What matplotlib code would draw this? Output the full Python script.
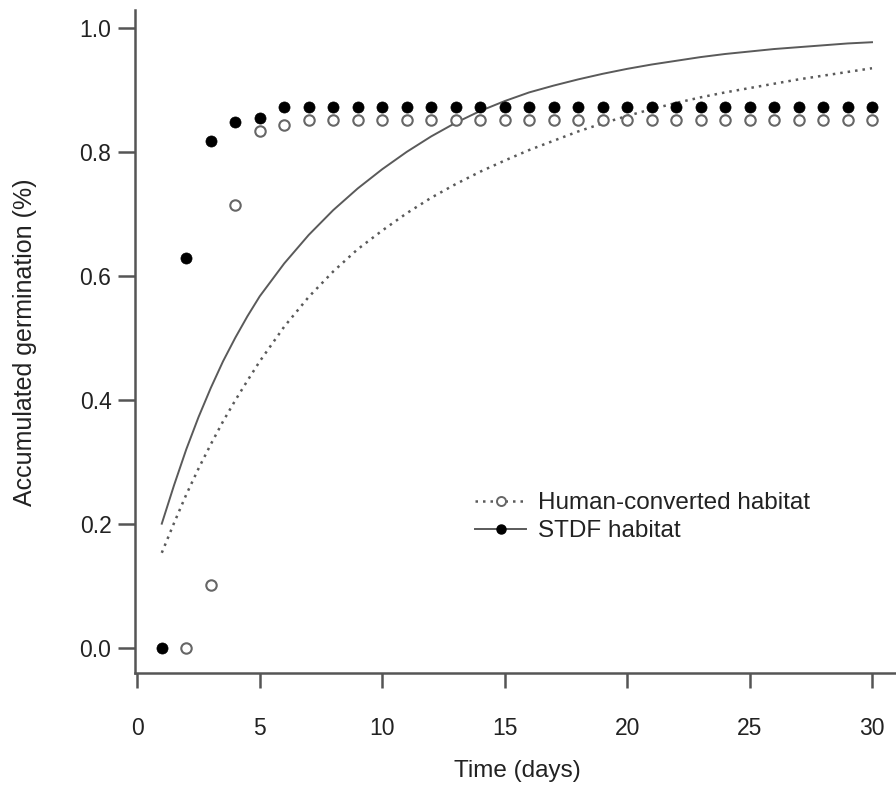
import matplotlib
matplotlib.use("Agg")
import matplotlib.pyplot as plt
from matplotlib.lines import Line2D

# observed accumulated germination per day
stdf_days = list(range(1, 31))
stdf_obs = [0.0, 0.628, 0.818, 0.849, 0.855] + [0.872] * 25
human_days = list(range(2, 31))
human_obs = [0.0, 0.101, 0.714, 0.834, 0.843] + [0.852] * 24

# fitted curves
fit_days = [1, 1.5, 2, 2.5, 3, 3.5, 4, 4.5, 5, 6, 7, 8, 9, 10, 11, 12, 13, 14, 15,
            16, 17, 18, 19, 20, 21, 22, 23, 24, 25, 26, 27, 28, 29, 30]
stdf_fit = [0.200, 0.262, 0.320, 0.372, 0.419, 0.462, 0.500, 0.535, 0.567, 0.620,
            0.666, 0.706, 0.741, 0.772, 0.800, 0.825, 0.847, 0.866, 0.882, 0.896,
            0.907, 0.917, 0.926, 0.934, 0.941, 0.947, 0.953, 0.958, 0.962, 0.966,
            0.969, 0.972, 0.975, 0.977]
human_fit = [0.153, 0.201, 0.247, 0.289, 0.328, 0.365, 0.399, 0.431, 0.462, 0.518,
             0.566, 0.607, 0.643, 0.673, 0.701, 0.726, 0.748, 0.768, 0.786, 0.803,
             0.818, 0.833, 0.846, 0.858, 0.869, 0.879, 0.888, 0.896, 0.903, 0.910,
             0.917, 0.923, 0.929, 0.935]

plt.rcParams.update({"font.family": ["Liberation Sans", "DejaVu Sans"], "font.size": 16})

AX = "#555555"
LN = "#5a5a5a"
fig = plt.figure(figsize=(8.96, 7.85), dpi=100)
ax = fig.add_axes([135 / 896, 112 / 785, 761 / 896, 663 / 785])

ax.plot(fit_days, stdf_fit, "-", color=LN, lw=1.4, zorder=2)
ax.plot(fit_days, human_fit, color=LN, lw=1.8, ls=(0, (1, 2.0)), zorder=2)
ax.plot(human_days, human_obs, "o", ms=7.5, mfc="white", mec="#666666", mew=1.5, ls="none", zorder=3)
ax.plot(stdf_days, stdf_obs, "o", ms=8, mfc="black", mec="black", mew=0.5, ls="none", zorder=4)

ax.set_xlim(-0.094, 30.98)
ax.set_ylim(-0.041, 1.029)
ax.set_xticks([0, 5, 10, 15, 20, 25, 30])
ax.set_yticks([0.0, 0.2, 0.4, 0.6, 0.8, 1.0])
ax.set_yticklabels(["0.0", "0.2", "0.4", "0.6", "0.8", "1.0"])
for s in ("top", "right"):
    ax.spines[s].set_visible(False)
for s in ("left", "bottom"):
    ax.spines[s].set_color(AX)
    ax.spines[s].set_linewidth(1.8)
ax.tick_params(axis="x", length=11, width=1.8, color=AX, pad=21, labelsize=16.5, labelcolor="#222")
ax.tick_params(axis="y", length=12, width=1.8, color=AX, pad=5, labelsize=16.5, labelcolor="#222")

fig.text(517 / 896, 1 - 771 / 785, "Time (days)", ha="center", va="center", fontsize=17.5, color="#222")
fig.text(25 / 896, 1 - 342 / 785, "Accumulated germination (%)", ha="center", va="center",
         rotation=90, fontsize=18, color="#222")

handles = [
    Line2D([], [], color=LN, lw=1.8, ls=(0, (1, 2.0)), marker="o", ms=6.5, mfc="white", mec="#666666", mew=1.4),
    Line2D([], [], color=LN, lw=1.4, ls="-", marker="o", ms=6.5, mfc="black", mec="black"),
]
ax.legend(handles, ["Human-converted habitat", "STDF habitat"], frameon=False, fontsize=17.5,
          loc="upper left", bbox_to_anchor=(475 / 896, 1 - 492 / 785), bbox_transform=fig.transFigure,
          borderpad=0, borderaxespad=0, handlelength=2.1, handletextpad=0.5, labelspacing=0.25,
          labelcolor="#222")

fig.savefig("out.png", dpi=100)
